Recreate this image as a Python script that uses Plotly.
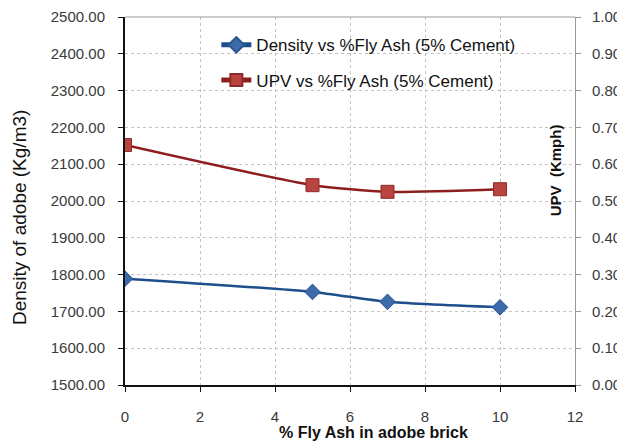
import plotly.graph_objects as go

fly_ash = [0, 5, 7, 10]
density = [1789, 1753, 1726, 1711]
upv = [0.652, 0.543, 0.525, 0.532]

name_density = "Density vs %Fly Ash (5% Cement)"
name_upv = "UPV vs %Fly Ash (5% Cement)"

font_family = "Liberation Sans, Arial, sans-serif"
tick_font = dict(size=15, color="#3A3A3A", family=font_family)

fig = go.Figure()
fig.add_trace(go.Scatter(
    x=fly_ash, y=density, name=name_density, mode="lines+markers",
    line=dict(color="#1F4E8C", width=2.5, shape="spline", smoothing=0.6),
    marker=dict(symbol="diamond", size=12, color="#3C6AAA", line=dict(color="#2A558F", width=1)),
    legendgroup="a", yaxis="y",
))
fig.add_trace(go.Scatter(
    x=fly_ash, y=upv, name=name_upv, mode="lines+markers",
    line=dict(color="#8E1E1E", width=2.5, shape="spline", smoothing=0.6),
    marker=dict(symbol="square", size=13, color="#B9433F", line=dict(color="#8E2A28", width=1)),
    legendgroup="b", yaxis="y2",
))

fig.update_layout(
    width=625, height=445,
    margin=dict(l=117, r=58, t=9, b=68, autoexpand=False),
    paper_bgcolor="white", plot_bgcolor="white",
    font=dict(family=font_family, size=13, color="#222222"),
    showlegend=True,
    legend=dict(x=0.203, y=0.972, xanchor="left", yanchor="top",
                bgcolor="rgba(0,0,0,0)", font=dict(size=17, color="#111111"),
                traceorder="grouped", tracegroupgap=10, itemsizing="constant"),
    xaxis=dict(range=[0, 12], tickvals=[0, 2, 4, 6, 8, 10, 12], showgrid=True,
               gridcolor="#C4C4C4", griddash="dot", gridwidth=1,
               showline=True, linecolor="#111111", linewidth=2,
               ticks="outside", ticklen=5, tickcolor="#111111", automargin=False,
               tickfont=tick_font, zeroline=False, ticklabelstandoff=12,
               ticklabeloverflow="allow"),
    yaxis=dict(range=[1500, 2500], dtick=100, tickformat=".2f", showgrid=True,
               gridcolor="#C4C4C4", griddash="dot", gridwidth=1,
               showline=True, linecolor="#111111", linewidth=2,
               ticks="outside", ticklen=5, tickcolor="#111111", automargin=False,
               tickfont=tick_font, zeroline=False, ticklabelstandoff=10,
               ticklabeloverflow="allow"),
    yaxis2=dict(range=[0, 1], dtick=0.1, tickformat=".2f", overlaying="y", side="right",
                showgrid=False, showline=True, linecolor="#999999", linewidth=1,
                ticks="outside", ticklen=5, tickcolor="#999999", automargin=False,
                tickfont=tick_font, zeroline=False, ticklabelstandoff=8,
                ticklabeloverflow="allow"),
    shapes=[dict(type="line", xref="paper", yref="paper", x0=0, x1=1, y0=1, y1=1,
                 line=dict(color="#999999", width=1))],
    annotations=[
        dict(text="<b>UPV  (Kmph)</b>", xref="paper", yref="paper",
             x=0.956, y=0.584, textangle=-90, showarrow=False,
             font=dict(size=15, color="#111111"), xanchor="center", yanchor="middle"),
        dict(text="Density of adobe (Kg/m3)", xref="paper", yref="paper",
             x=-0.233, y=0.454, textangle=-90, showarrow=False,
             font=dict(size=19, color="#111111"), xanchor="center", yanchor="middle"),
        dict(text="<b>% Fly Ash in adobe brick</b>", xref="paper", yref="paper",
             x=0.553, y=-0.130, showarrow=False,
             font=dict(size=16, color="#111111"), xanchor="center", yanchor="middle"),
    ],
)

fig.write_html("out.html")
